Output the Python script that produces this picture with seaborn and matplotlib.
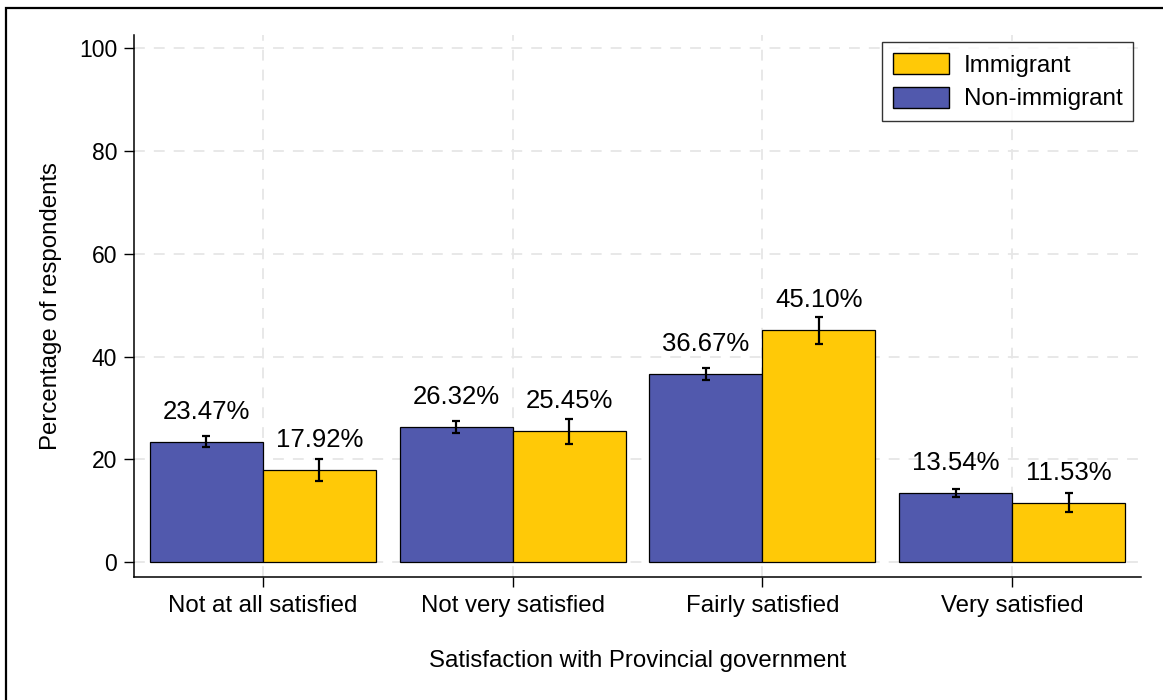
import matplotlib
matplotlib.use("Agg")
import matplotlib.pyplot as plt
import seaborn as sns
import pandas as pd
import numpy as np
from matplotlib.patches import Rectangle, Patch

categories = ["Not at all satisfied", "Not very satisfied", "Fairly satisfied", "Very satisfied"]
groups = ["Non-immigrant", "Immigrant"]
non_immigrant = [23.47, 26.32, 36.67, 13.54]
immigrant = [17.92, 25.45, 45.10, 11.53]
non_immigrant_err = [1.07, 1.1, 1.2, 0.78]
immigrant_err = [2.1, 2.4, 2.7, 1.85]
y_ticks = [0, 20, 40, 60, 80, 100]

colors = {"Non-immigrant": "#5159AD", "Immigrant": "#FFC907"}

sns.set_style("white")
plt.rcParams["font.family"] = ["Liberation Sans", "DejaVu Sans"]
plt.rcParams["text.color"] = "black"
plt.rcParams["axes.labelcolor"] = "black"
plt.rcParams["xtick.color"] = "black"
plt.rcParams["ytick.color"] = "black"

df = pd.DataFrame({
    "category": categories * 2,
    "group": ["Non-immigrant"] * 4 + ["Immigrant"] * 4,
    "value": non_immigrant + immigrant,
    "err": non_immigrant_err + immigrant_err,
})

fig = plt.figure(figsize=(11.63, 7.0), dpi=100)
ax = fig.add_axes([134 / 1163, 1 - 577 / 700, (1141 - 134) / 1163, (577 - 35) / 700])

sns.barplot(data=df, x="category", y="value", hue="group", order=categories,
            hue_order=groups, palette=colors, width=0.904, errorbar=None,
            saturation=1, edgecolor="black", linewidth=0.9, ax=ax, legend=False,
            zorder=2)

# error bars and labels
for gi, g in enumerate(groups):
    container = ax.containers[gi]
    vals = non_immigrant if g == "Non-immigrant" else immigrant
    errs = non_immigrant_err if g == "Non-immigrant" else immigrant_err
    xs = [p.get_x() + p.get_width() / 2 for p in container.patches]
    ax.errorbar(xs, vals, yerr=errs, fmt="none", ecolor="black", elinewidth=1.6,
                capsize=3, capthick=1.6, zorder=3)
    for x, v in zip(xs, vals):
        ax.annotate(f"{v:.2f}%", (x, v), xytext=(0, 18), textcoords="offset pixels",
                    ha="center", va="bottom", fontsize=18.5, color="black")

ax.set_xlim(-0.516, 3.516)
ax.set_ylim(-2.9, 102.6)
ax.set_yticks(y_ticks)
ax.set_yticklabels([str(t) for t in y_ticks], fontsize=16.5)
ax.set_xticks(range(len(categories)))
ax.set_xticklabels(categories, fontsize=17.3)
ax.tick_params(axis="both", direction="out", length=7, width=1, color="black", pad=5,
               bottom=True, left=True)
ax.tick_params(axis="x", pad=6)

ax.grid(True, axis="both", linestyle=(0, (6, 5)), color="#e6e6e6", linewidth=1.3, zorder=0)
ax.set_axisbelow(True)

for s in ["top", "right"]:
    ax.spines[s].set_visible(False)
for s in ["left", "bottom"]:
    ax.spines[s].set_color("black")
    ax.spines[s].set_linewidth(1.1)

ax.set_xlabel("Satisfaction with Provincial government", fontsize=17.3, labelpad=24)
ax.set_ylabel("Percentage of respondents", fontsize=17.3, labelpad=12)

handles = [Patch(facecolor=colors["Immigrant"], edgecolor="black", label="Immigrant"),
           Patch(facecolor=colors["Non-immigrant"], edgecolor="black", label="Non-immigrant")]
leg = ax.legend(handles=handles, loc="upper right", bbox_to_anchor=(0.9925, 0.987),
                fontsize=17.5, frameon=True, fancybox=False, edgecolor="black",
                handlelength=2.3, handleheight=0.95, borderpad=0.45, labelspacing=0.4,
                handletextpad=0.6, borderaxespad=0)
leg.get_frame().set_linewidth(1.0)

# figure border
fig.patches.append(Rectangle((6 / 1163, -0.2), 1.2, 1 - 8 / 700 + 0.2,
                             transform=fig.transFigure, fill=False, edgecolor="black",
                             linewidth=1.6, clip_on=False))

fig.savefig("out.png", dpi=100, facecolor="white")
